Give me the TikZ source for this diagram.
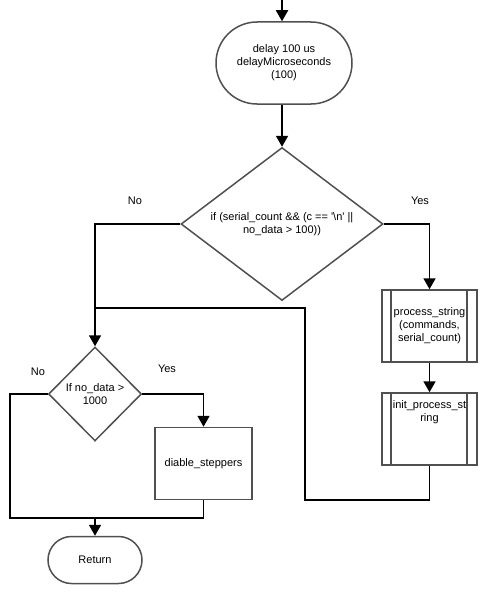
\documentclass[tikz,border=0pt]{standalone}
\usepackage{fontspec}
\setmainfont{Liberation Sans}
\usepackage{xcolor}
\usetikzlibrary{arrows.meta,shapes.geometric,shapes.misc}

\definecolor{edgegray}{RGB}{80,80,80}

\begin{document}
\begin{tikzpicture}[x=1pt,y=-1pt,
    font=\fontsize{11}{13}\selectfont,
    >={Triangle[width=12pt,length=11pt]},
    term/.style={rounded rectangle,draw=edgegray,line width=1.5pt,align=center,inner sep=0pt},
    cond/.style={diamond,draw=edgegray,line width=1.5pt,align=center,inner sep=0pt},
    proc/.style={rectangle,draw=edgegray,line width=1.5pt,align=center,
                 minimum width=97,minimum height=72,inner sep=0pt},
    subproc/.style={proc,minimum width=95,
        path picture={
          \draw[edgegray,line width=1.5pt]
            ([xshift=9pt]path picture bounding box.north west) --
            ([xshift=9pt]path picture bounding box.south west);
          \draw[edgegray,line width=1.5pt]
            ([xshift=-10pt]path picture bounding box.north east) --
            ([xshift=-10pt]path picture bounding box.south east);}},
    flow/.style={draw=black,line width=1.8pt}]
\useasboundingbox (0,0) rectangle (485,594);

% nodes
\node[term,minimum width=136,minimum height=82] (delay) at (284,63)
    {delay 100 us\\delayMicroseconds\\(100)};
\node[cond,aspect=1.32,minimum width=202,minimum height=153] (serial) at (282,224)
    {if (serial\_count \&\& (c == \textquotesingle\textbackslash n\textquotesingle\ ||\\no\_data > 100))};
\node[subproc] (procstr) at (429.5,326)
    {process\_string\\(commands,\\serial\_count)};
\node[subproc] (initstr) at (429.5,429)
    {\parbox[c][56pt][t]{80pt}{\centering init\_process\_st\\ring}};
\node[cond,minimum width=93,minimum height=94] (nodata) at (95,394)
    {If no\_data >\\1000};
\node[proc] (disable) at (203.5,463.5) {diable\_steppers};
\node[term,minimum width=94,minimum height=47] (ret) at (95,560) {Return};

% labels
\node (no1)  at (135,201) {No};
\node (yes1) at (420,201) {Yes};
\node (no2)  at (38,372)  {No};
\node (yes2) at (167,369) {Yes};

% connectors
\coordinate (start) at (282,0);
\coordinate (loopr) at (305,500);
\coordinate (loopj) at (95,308);
\coordinate (nol)   at (10,518);
\coordinate (join)  at (95,518);

\draw[flow,->] (start) -- (delay.north -| start);
\draw[flow,->] (delay.south -| serial.north) -- (serial.north);
\draw[flow,->] (serial.west) -| (nodata.north);
\draw[flow,->] (serial.east) -| (procstr.north);
\draw[flow,->] (procstr.south) -- (initstr.north);
\draw[flow] (initstr.south) |- (loopr) -- (loopr |- loopj) -- (loopj);
\draw[flow,->] (nodata.east) -| (disable.north);
\draw[flow] (nodata.west) -| (nol) -- (join);
\draw[flow] (disable.south) |- (join);
\draw[flow,->] (join) -- (ret.north);
\end{tikzpicture}
\end{document}
